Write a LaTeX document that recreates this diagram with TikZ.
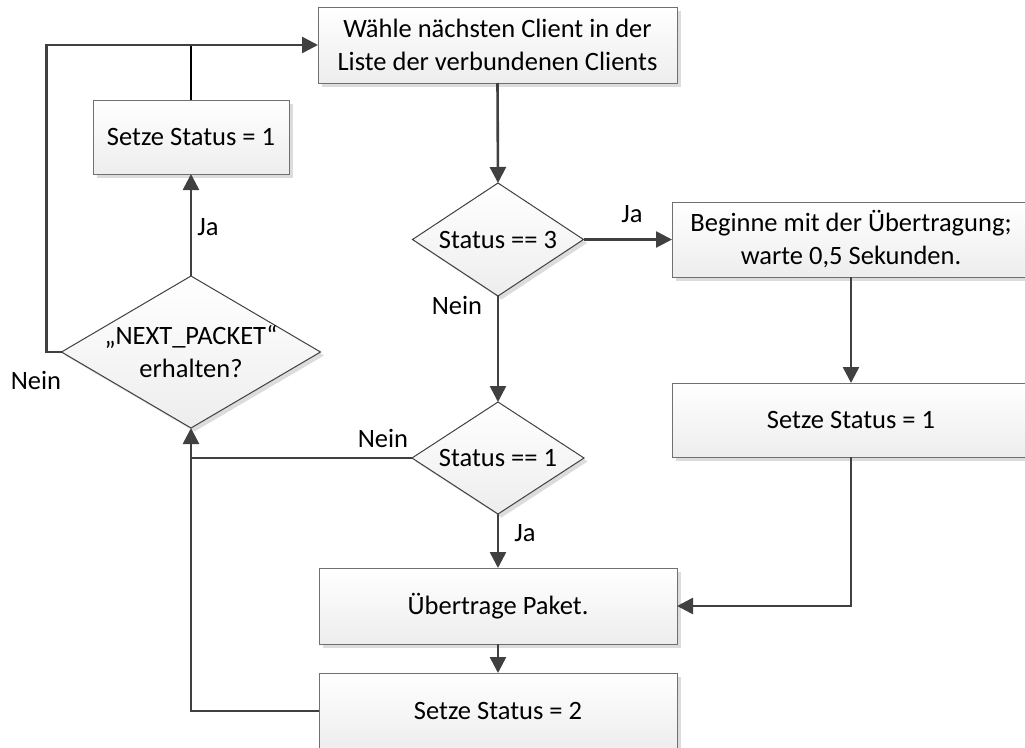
\documentclass[tikz,border=0pt]{standalone}
\usepackage{fontspec}
\setmainfont{Carlito}
\usetikzlibrary{shapes.geometric,arrows.meta,shadows}
\definecolor{linegray}{HTML}{404040}
\definecolor{edgegray}{HTML}{707070}
\definecolor{shadowgray}{HTML}{DCDCDC}
\begin{document}
\begin{tikzpicture}[x=1pt,y=-1pt,
  every node/.style={text=black},
  txt/.style={font=\fontsize{26.5}{33}\selectfont, align=center, inner sep=0pt},
  shapebase/.style={draw=edgegray, line width=1pt, top color=white, bottom color=black!7,
    general shadow={fill=shadowgray, shadow xshift=3.5pt, shadow yshift=-3.5pt},
    inner sep=0pt, outer sep=0pt},
  box/.style={shapebase, rectangle, txt},
  % the diamond outline keeps its given size; its text is set as a centred label
  decision/.style 2 args={shapebase, diamond, draw=linegray, label={[txt]center:#2},
    minimum width=#1},
  flow/.style={draw=linegray, line width=2.6pt, -{Triangle[length=16pt,width=16pt]}},
  link/.style={draw=linegray, line width=2.6pt},
  lbl/.style={font=\fontsize{26.5}{30}\selectfont, inner sep=0pt}
]
\path[use as bounding box] (0,0) rectangle (1025,747);
\clip (0,0) rectangle (1025,747);

% process boxes and decisions
\node[box, minimum width=359pt, minimum height=76pt] (top) at (497.5,45)
  {Wähle nächsten Client in der\\Liste der verbundenen Clients};
\node[decision={171pt}{Status == 3}, minimum height=113pt] (s3) at (498,239.5) {};
\node[box, minimum width=358pt, minimum height=75pt] (beg) at (851,239.5)
  {Beginne mit der Übertragung;\\warte 0,5 Sekunden.};
\node[box, minimum width=358pt, minimum height=74pt] (set1r) at (851,420) {Setze Status = 1};
\node[decision={172pt}{Status == 1}, minimum height=112pt] (s1) at (498,458) {};
\node[box, minimum width=358pt, minimum height=76pt] (ueb) at (498,606) {Übertrage Paket.};
\node[box, minimum width=358pt, minimum height=76pt] (set2) at (498,711) {Setze Status = 2};
\node[decision={259pt}{„NEXT\_PACKET“\\erhalten?}, minimum height=152pt] (nxt) at (191,352) {};
\node[box, minimum width=196pt, minimum height=74pt] (set1l) at (191,137) {Setze Status = 1};

% connectors
\draw[flow] (top.south) -- (s3.north);
\draw[flow] (s3.east) -- (beg.west);
\draw[flow] (s3.south) -- (s1.north);
\draw[flow] (s1.south) -- (ueb.north);
\draw[flow] (beg.south) -- (set1r.north);
\draw[flow] (set1r.south) |- (ueb.east);
\draw[flow] (ueb.south) -- (set2.north);
\draw[flow] (set2.west) -| (nxt.south);
\draw[link] (s1.west) -- (s1.west -| nxt.south);
\draw[flow] (nxt.north) -- (set1l.south);
\draw[link, draw=black] (set1l.north) -- (set1l.north |- top.west);
\draw[flow] (nxt.west) -- ++(-15,0) |- (top.west);

% branch labels
\node[lbl] (ja3) at (632,214) {Ja};
\node[lbl] (nein3) at (457,305) {Nein};
\node[lbl] (janxt) at (208,227) {Ja};
\node[lbl] (neinnxt) at (36,380) {Nein};
\node[lbl] (nein1) at (383,438) {Nein};
\node[lbl] (ja1) at (525,533) {Ja};
\end{tikzpicture}
\end{document}
